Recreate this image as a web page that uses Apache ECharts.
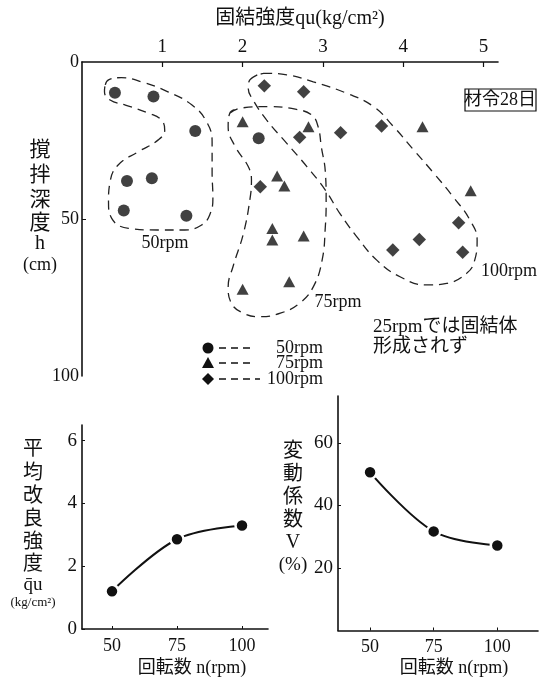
<!DOCTYPE html>
<html><head><meta charset="utf-8">
<script src="https://cdn.jsdelivr.net/npm/echarts@6/dist/echarts.min.js"></script>
<style>html,body{margin:0;padding:0;background:#fff}#c{width:539px;height:684px}</style>
</head><body><div id="c"></div>
<script>
// ---- Top chart: depth h (cm) vs strength qu (kg/cm2) ----
const quTicks = [1, 2, 3, 4, 5];
const hLabels = [0, 50, 100];
const pts50 = [[0.41,9.8],[0.89,11],[1.41,22],[0.56,37.9],[0.87,37],[0.52,47.3],[1.30,49],[2.20,24.3]];
const pts75 = [[2.0,19],[2.82,20.6],[2.43,36.3],[2.52,39.5],[2.37,53],[2.37,56.7],[2.76,55.4],[2.58,70],[2.0,72.4],[4.24,20.6],[4.84,41]];
const pts100 = [[2.27,7.6],[2.76,9.5],[2.71,24],[3.22,22.5],[3.73,20.4],[2.22,39.7],[3.87,59.9],[4.69,51.2],[4.2,56.5],[4.74,60.6]];
const contour50 = [[0.29,7.3],[0.33,5.7],[0.49,5.0],[0.74,6.3],[1.07,9.5],[1.37,13.7],[1.55,19.0],[1.62,25.4],[1.62,34.9],[1.63,43.4],[1.59,48.7],[1.49,51.9],[1.28,53.5],[0.95,53.5],[0.58,53.0],[0.37,49.8],[0.33,44.5],[0.35,38.1],[0.45,32.8],[0.70,28.6],[0.95,24.8],[1.03,21.7],[0.99,18.5],[0.83,16.3],[0.54,13.7],[0.35,12.1],[0.28,9.5]];
const contour75 = [[1.84,16.3],[1.97,14.7],[2.34,14.2],[2.67,15.1],[2.86,16.9],[2.94,20.6],[2.98,27.0],[3.03,35],[3.04,43.9],[3.03,52.4],[2.99,63.1],[2.88,71.6],[2.71,76.8],[2.47,80.0],[2.22,81.1],[2.01,80.0],[1.86,76.8],[1.82,71.6],[1.88,65.2],[2.01,54.6],[2.09,43.9],[2.11,37.6],[2.07,33.3],[1.91,27.0],[1.82,20.6]];
const contour100 = [[2.09,5.7],[2.26,3.6],[2.55,4.1],[2.88,6.3],[3.30,10.0],[3.63,14.2],[3.88,20.6],[4.13,28.0],[4.38,35.4],[4.62,42.9],[4.83,50.3],[4.92,56.7],[4.89,63.1],[4.79,67.3],[4.54,70.5],[4.29,71.0],[3.96,68.4],[3.67,63.1],[3.42,55.6],[3.21,48.2],[3.03,40.8],[2.80,33.3],[2.55,25.9],[2.30,18.5],[2.13,12.1],[2.07,8.4]];
// ---- Bottom charts ----
const speeds = [50, 75, 100];
const meanQu = [1.2, 2.86, 3.3];
const cvPct = [50.6, 31.7, 27.2];
const meanQuTicks = [0, 2, 4, 6];
const cvTicks = [20, 40, 60];

const SERIF = '"Liberation Serif","DejaVu Serif","Noto Sans CJK JP",serif';
const INK = '#111';
const closeLoop = a => a.concat([a[0], a[1]]);

function valAxis(o) {
  return Object.assign({
    type: 'value',
    axisLine: { show: true, onZero: false, lineStyle: { color: INK, width: 1.6 } },
    splitLine: { show: false },
    axisTick: { show: true, inside: true, length: 4, lineStyle: { color: INK, width: 1.2 } },
    axisLabel: { color: INK, fontFamily: SERIF, fontSize: 18, margin: 6 }
  }, o);
}

const chart = echarts.init(document.getElementById('c'), null, { renderer: 'canvas' });

const contourStyle = { color: '#222', width: 1.3, type: [9, 6] };
function contour(data) {
  return { type: 'line', xAxisIndex: 0, yAxisIndex: 0, data: closeLoop(data), smooth: 0.45,
    showSymbol: false, symbol: 'none', lineStyle: contourStyle, silent: true, z: 1 };
}

const t = (text, x, y, size, extra) => Object.assign({
  type: 'text', x: x, y: y,
  style: Object.assign({ text: text, fill: INK, font: size + 'px ' + SERIF, textAlign: 'center', textVerticalAlign: 'middle' }, extra || {})
});

function vstack(chars, x, ys, sizes) {
  return chars.map((c, i) => t(c, x, ys[i], sizes[i]));
}

const graphics = [
  t('固結強度qu(kg/cm²)', 300, 19, 20),
  ...vstack(['撹', '拌', '深', '度', 'h', '(cm)'], 40, [150, 175, 200, 223, 244, 265], [21, 21, 21, 21, 20, 18]),
  ...vstack(['平', '均', '改', '良', '強', '度', 'q̄u', '(kg/cm²)'], 33, [450, 474, 497, 520, 543, 565, 585, 603], [20, 20, 20, 20, 20, 20, 19, 13]),
  ...vstack(['変', '動', '係', '数', 'V', '(%)'], 293, [452, 475, 498, 521, 543, 565], [20, 20, 20, 20, 20, 19]),
  t('回転数 n(rpm)', 192, 668, 18),
  t('回転数 n(rpm)', 454, 668, 18),
  t('50rpm', 165, 243, 18),
  t('75rpm', 338, 302, 18),
  t('100rpm', 509, 271, 18),
  t('25rpmでは固結体', 373, 327, 19, { textAlign: 'left' }),
  t('形成されず', 373, 347, 19, { textAlign: 'left' }),
  { type: 'rect', shape: { x: 465, y: 89, width: 71, height: 22 }, style: { fill: '#fff', stroke: INK, lineWidth: 1.2 } },
  t('材令28日', 500, 100, 18),
  // legend
  { type: 'circle', shape: { cx: 208, cy: 348, r: 5.5 }, style: { fill: INK } },
  { type: 'polygon', shape: { points: [[208, 357], [214, 368], [202, 368]] }, style: { fill: INK } },
  { type: 'polygon', shape: { points: [[208, 373], [214, 379], [208, 385], [202, 379]] }, style: { fill: INK } },
  { type: 'line', shape: { x1: 219, y1: 348, x2: 253, y2: 348 }, style: { stroke: INK, lineWidth: 1.3, lineDash: [7, 5] } },
  { type: 'line', shape: { x1: 219, y1: 363, x2: 253, y2: 363 }, style: { stroke: INK, lineWidth: 1.3, lineDash: [7, 5] } },
  { type: 'line', shape: { x1: 219, y1: 379, x2: 260, y2: 379 }, style: { stroke: INK, lineWidth: 1.3, lineDash: [7, 5] } },
  t('50rpm', 323, 348, 18, { textAlign: 'right' }),
  t('75rpm', 323, 363, 18, { textAlign: 'right' }),
  t('100rpm', 323, 379, 18, { textAlign: 'right' })
];

chart.setOption({
  animation: false,
  backgroundColor: '#fff',
  grid: [
    { left: 82, top: 62, width: 416, height: 314 },
    { left: 82, top: 425, width: 186, height: 204 },
    { left: 338, top: 396, width: 200, height: 234.5 }
  ],
  xAxis: [
    valAxis({ gridIndex: 0, position: 'top', min: 0, max: 5.18,
      axisTick: { show: true, inside: true, length: 5, customValues: quTicks, lineStyle: { color: INK, width: 1.2 } },
      axisLabel: { color: INK, fontFamily: SERIF, fontSize: 19, margin: 5, customValues: quTicks } }),
    valAxis({ gridIndex: 1, min: 38.46, max: 110,
      axisTick: { show: true, inside: true, length: 3, customValues: speeds, lineStyle: { color: INK } },
      axisLabel: { color: INK, fontFamily: SERIF, fontSize: 18, margin: 8, customValues: speeds } }),
    valAxis({ gridIndex: 2, min: 37.4, max: 116,
      axisTick: { show: true, inside: true, length: 3, customValues: speeds, lineStyle: { color: INK } },
      axisLabel: { color: INK, fontFamily: SERIF, fontSize: 18, margin: 8, customValues: speeds } })
  ],
  yAxis: [
    valAxis({ gridIndex: 0, inverse: true, min: 0, max: 100,
      axisTick: { show: true, inside: true, length: 4, customValues: [50], lineStyle: { color: INK } },
      axisLabel: { color: INK, fontFamily: SERIF, fontSize: 18, margin: 3, customValues: hLabels } }),
    valAxis({ gridIndex: 1, min: 0, max: 6.5,
      axisTick: { show: true, inside: true, length: 3, customValues: meanQuTicks, lineStyle: { color: INK } },
      axisLabel: { color: INK, fontFamily: SERIF, fontSize: 19, margin: 5, customValues: meanQuTicks } }),
    valAxis({ gridIndex: 2, min: 0, max: 75,
      axisTick: { show: true, inside: true, length: 3, customValues: cvTicks, lineStyle: { color: INK } },
      axisLabel: { color: INK, fontFamily: SERIF, fontSize: 19, margin: 5, customValues: cvTicks } })
  ],
  series: [
    contour(contour50), contour(contour75), contour(contour100),
    { type: 'scatter', xAxisIndex: 0, yAxisIndex: 0, data: pts50, symbol: 'circle', symbolSize: 12,
      itemStyle: { color: INK }, z: 3 },
    { type: 'scatter', xAxisIndex: 0, yAxisIndex: 0, data: pts75, symbol: 'triangle', symbolSize: [12, 11],
      itemStyle: { color: INK }, z: 3 },
    { type: 'scatter', xAxisIndex: 0, yAxisIndex: 0, data: pts100, symbol: 'rect', symbolRotate: 45, symbolSize: 9.5,
      itemStyle: { color: INK }, z: 3 },
    { type: 'line', xAxisIndex: 1, yAxisIndex: 1, data: speeds.map((s, i) => [s, meanQu[i]]), smooth: 0.35,
      symbol: 'circle', symbolSize: 13, lineStyle: { color: INK, width: 2 },
      itemStyle: { color: INK, borderColor: '#fff', borderWidth: 2.5 } },
    { type: 'line', xAxisIndex: 2, yAxisIndex: 2, data: speeds.map((s, i) => [s, cvPct[i]]), smooth: 0.35,
      symbol: 'circle', symbolSize: 13, lineStyle: { color: INK, width: 2 },
      itemStyle: { color: INK, borderColor: '#fff', borderWidth: 2.5 } }
  ],
  graphic: graphics
});
</script>
</body></html>
